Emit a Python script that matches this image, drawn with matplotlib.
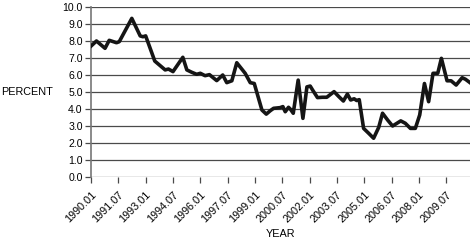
import matplotlib

matplotlib.use("Agg")
import matplotlib.pyplot as plt  # noqa: E402

# percent series (x in fractional years)
years = [
    1990.0, 1990.3, 1990.77, 1991.0, 1991.4, 1991.55, 1992.24, 1992.7, 1992.85,
    1993.0, 1993.5, 1994.07, 1994.25, 1994.5, 1995.04, 1995.26, 1995.53, 1995.8,
    1996.0, 1996.26, 1996.5, 1996.9, 1997.23, 1997.45, 1997.73, 1998.0, 1998.46,
    1998.74, 1998.96, 1999.38, 1999.62, 1999.84, 2000.02, 2000.38, 2000.53,
    2000.66, 2000.84, 2000.95, 2001.1, 2001.37, 2001.63, 2001.85, 2002.03,
    2002.16, 2002.43, 2002.7, 2002.94, 2003.34, 2003.6, 2003.85, 2004.07,
    2004.25, 2004.44, 2004.58, 2004.72, 2004.96, 2005.24, 2005.51, 2005.79,
    2006.0, 2006.28, 2006.55, 2007.0, 2007.25, 2007.53, 2007.8, 2008.04,
    2008.3, 2008.53, 2008.77, 2009.03, 2009.23, 2009.54, 2009.76, 2010.04,
    2010.37, 2010.55, 2010.8,
]
percent = [
    7.7, 8.0, 7.57, 8.04, 7.9, 7.96, 9.33, 8.3, 8.25,
    8.3, 6.82, 6.3, 6.35, 6.2, 7.04, 6.3, 6.16, 6.04,
    6.1, 5.96, 6.02, 5.67, 6.0, 5.55, 5.66, 6.72, 6.1,
    5.55, 5.5, 3.94, 3.7, 3.9, 4.04, 4.08, 4.14,
    3.84, 4.1, 3.98, 3.75, 5.7, 3.45, 5.3, 5.35,
    5.12, 4.67, 4.69, 4.69, 5.02, 4.73, 4.47, 4.88,
    4.53, 4.6, 4.5, 4.55, 2.86, 2.57, 2.28, 2.92,
    3.75, 3.35, 3.0, 3.3, 3.16, 2.86, 2.86, 3.65,
    5.5, 4.43, 6.1, 6.1, 6.98, 5.66, 5.66, 5.41,
    5.84, 5.75, 5.55,
]
tick_pos = [1990.0 + 1.5 * i for i in range(14)]
tick_labels = [
    "1990.01", "1991.07", "1993.01", "1994.07", "1996.01", "1997.07", "1999.01",
    "2000.07", "2002.01", "2003.07", "2005.01", "2006.07", "2008.01", "2009.07",
]
y_ticks = [i * 1.0 for i in range(11)]

plt.rcParams["font.family"] = ["Liberation Sans", "DejaVu Sans"]

fig = plt.figure(figsize=(4.7, 2.43), dpi=100)
ax = fig.add_axes([91 / 470, 1 - 177 / 243, 1 - 91 / 470, 170 / 243])

for v in y_ticks:
    ax.axhline(v, color="#4a4a4a", lw=0.9, zorder=1)
ax.plot(years, percent, color="#151515", lw=2.6, solid_joinstyle="round", zorder=3)

ax.set_xlim(1990.0, 2010.8)
ax.set_ylim(0, 10)
ax.set_yticks(y_ticks)
ax.set_yticklabels([f"{v:.1f}" for v in y_ticks], fontsize=7.6)
ax.set_xticks(tick_pos)
ax.set_xticklabels(tick_labels, fontsize=7.8, rotation=45, ha="right",
                   rotation_mode="anchor")
ax.tick_params(axis="y", length=4, width=0.9, color="#4a4a4a", pad=2)
ax.tick_params(axis="x", length=4, width=0.9, color="#4a4a4a", pad=5)

for s in ["top", "right", "bottom"]:
    ax.spines[s].set_visible(False)
ax.spines["left"].set_color("#777777")
ax.spines["left"].set_linewidth(1.2)

ax.set_xlabel("YEAR", fontsize=7.8, labelpad=3)
fig.text(0.002, 1 - 92 / 243, "PERCENT", fontsize=7.8, va="center", ha="left")

fig.savefig("out.png", dpi=100)
